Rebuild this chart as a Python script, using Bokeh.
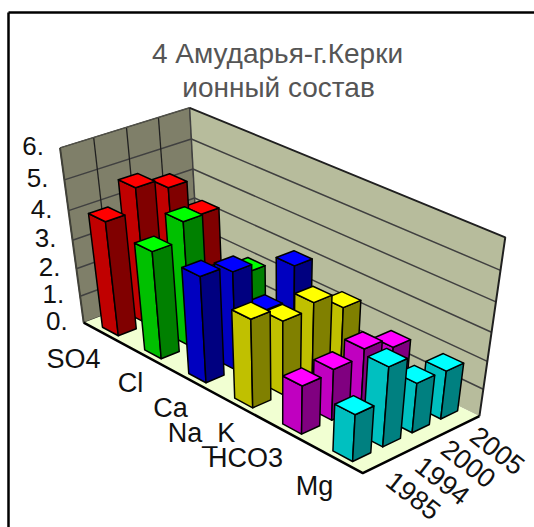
import numpy as np
from bokeh.plotting import figure
from bokeh.embed import file_html
from bokeh.resources import INLINE
from bokeh.core.properties import value

title_lines = ["4 Амударья-г.Керки", "ионный состав"]
categories = ["SO4", "Cl", "Ca", "Na_K", "HCO3", "Mg"]
years = ["1985", "1994", "2000", "2005"]
y_ticks = [0, 1, 2, 3, 4, 5, 6]
SO4 = [4.05, 4.8, 4.45, 3.2]
Cl = [3.8, 4.4, 2.1, 1.9]
Ca = [3.75, 3.5, 1.75, 2.9]
Na_K = [3.15, 2.65, 2.85, 2.25]
HCO3 = [1.75, 1.85, 2.1, 1.7]
Mg = [1.7, 2.85, 1.8, 1.75]
series = [SO4, Cl, Ca, Na_K, HCO3, Mg]
face_top = ["#FF0000", "#00FF00", "#0000FF", "#FFFF00", "#FF00FF", "#00FFFF"]
face_left = ["#C00000", "#00C000", "#0000C0", "#C0C000", "#C000C0", "#00C0C0"]
face_right = ["#800000", "#008000", "#000080", "#808000", "#800080", "#008080"]

# camera calibration: model corner (category frac, year frac, value frac) -> page pixel
model = [(0,0,0),(1,0,0),(1,1,0),(0,0,1),(1,1,1),(0,1,1),(1,1,.5),(0,0,.5),(0,1,.5)]
page = [(83,322),(362,473),(480,415),(59,147),(505,237),(190,107),(490,332),(73,240),(193,198)]
A = []
b = []
for (u,v,h),(x,y) in zip(model,page):
    A.append([u,v,h,1,0,0,0,0,-x*u,-x*v,-x*h]); b.append(x)
    A.append([0,0,0,0,u,v,h,1,-y*u,-y*v,-y*h]); b.append(y)
m = np.linalg.lstsq(np.array(A,float),np.array(b,float),rcond=None)[0]
P = np.append(m,1.0).reshape(3,4)
def proj(u,v,h):
    q = P @ np.array([u,v,h,1.0])
    return (q[0]/q[2], q[1]/q[2])
def poly(pts):
    r = [proj(*t) for t in pts]
    return [a for a,_ in r],[c for _,c in r]

W,H = 534,527
p = figure(width=W,height=H,x_range=(0,534),y_range=(527,0),toolbar_location=None,
           output_backend="svg",min_border=0,outline_line_color=None)
p.axis.visible=False
p.grid.visible=False
p.background_fill_color="white"

# page frame
p.line([8,8],[527,12],line_color="black",line_width=2.5)
p.line([8,534],[12,12],line_color="black",line_width=2.5)

n_c,n_y,vmax = len(categories),len(years),max(y_ticks)
def hf(val): return val/vmax

# walls and floor
x,y=poly([(0,0,0),(0,1,0),(0,1,1),(0,0,1)])
p.patch(x,y,fill_color="#7F7F69",line_color="#3a3a30",line_width=1)
x,y=poly([(0,1,0),(1,1,0),(1,1,1),(0,1,1)])
p.patch(x,y,fill_color="#B7BC9C",line_color=None)
x,y=poly([(0,0,0),(1,0,0),(1,1,0),(0,1,0)])
p.patch(x,y,fill_color="#F1FFD2",line_color=None)
for t in y_ticks[1:-1]:
    x,y=poly([(0,0,hf(t)),(0,1,hf(t)),(1,1,hf(t))])
    p.line(x,y,line_color="#404040",line_width=1.5)
for j in range(1,n_y):
    x,y=poly([(0,j/n_y,0),(0,j/n_y,1)])
    p.line(x,y,line_color="#202020",line_width=1.3)
x,y=poly([(0,0,1),(0,1,1)]); p.line(x,y,line_color="#505048",line_width=1.5)
x,y=poly([(0,1,0),(0,1,1)]); p.line(x,y,line_color="#404040",line_width=1.5)
x,y=poly([(0,1,1),(1,1,1),(1,1,0)]); p.line(x,y,line_color="#202020",line_width=2)
x,y=poly([(0,0,1),(0,0,0)]); p.line(x,y,line_color="#404038",line_width=2)
x,y=poly([(0,0,0),(1,0,0),(1,1,0)]); p.line(x,y,line_color="black",line_width=2.5)

# bars painted far to near
du,dv=0.19/n_c,0.30/n_y
order=sorted(((i,j) for i in range(n_c) for j in range(n_y)),key=lambda t:(t[0]-t[1]*1.0))
for i,j in order:
    u=(i+.5)/n_c; v=(j+.5)/n_y; h=hf(series[i][j])
    u0,u1,v0,v1=u-du,u+du,v-dv,v+dv
    for pts,c in (
        ([(u0,v0,0),(u1,v0,0),(u1,v0,h),(u0,v0,h)],face_left[i]),
        ([(u1,v0,0),(u1,v1,0),(u1,v1,h),(u1,v0,h)],face_right[i]),
        ([(u0,v0,h),(u1,v0,h),(u1,v1,h),(u0,v1,h)],face_top[i])):
        x,y=poly(pts)
        p.patch(x,y,fill_color=c,line_color="black",line_width=1.5,line_join="round")

FONT=value("Liberation Sans")
def txt(x,y,s,size,color="#111111",align="center",angle=0):
    p.text([x],[y],text=[s],text_font=FONT,text_font_size=f"{size}px",text_color=color,
           text_align=align,text_baseline="middle",angle=angle)

title_pos=[(277,53),(278,87)]
for s,(x,y) in zip(title_lines,title_pos):
    txt(x,y,s,28,color="#555555")
for t in y_ticks:
    x,y=proj(0,0,hf(t))
    txt(x-16,y-2,f"{t}.",26,align="right")
cat_pos=[(73,358),(130,382),(170,407),(201,432),(245,457),(314,485)]
for s,(x,y) in zip(categories,cat_pos):
    txt(x,y,s,27)
year_pos=[(413,495),(442,480),(468,463),(497,450)]
for s,(x,y) in zip(years,year_pos):
    txt(x,y,s,27,angle=np.deg2rad(-38))

open("out.html","w").write(file_html(p,INLINE))
